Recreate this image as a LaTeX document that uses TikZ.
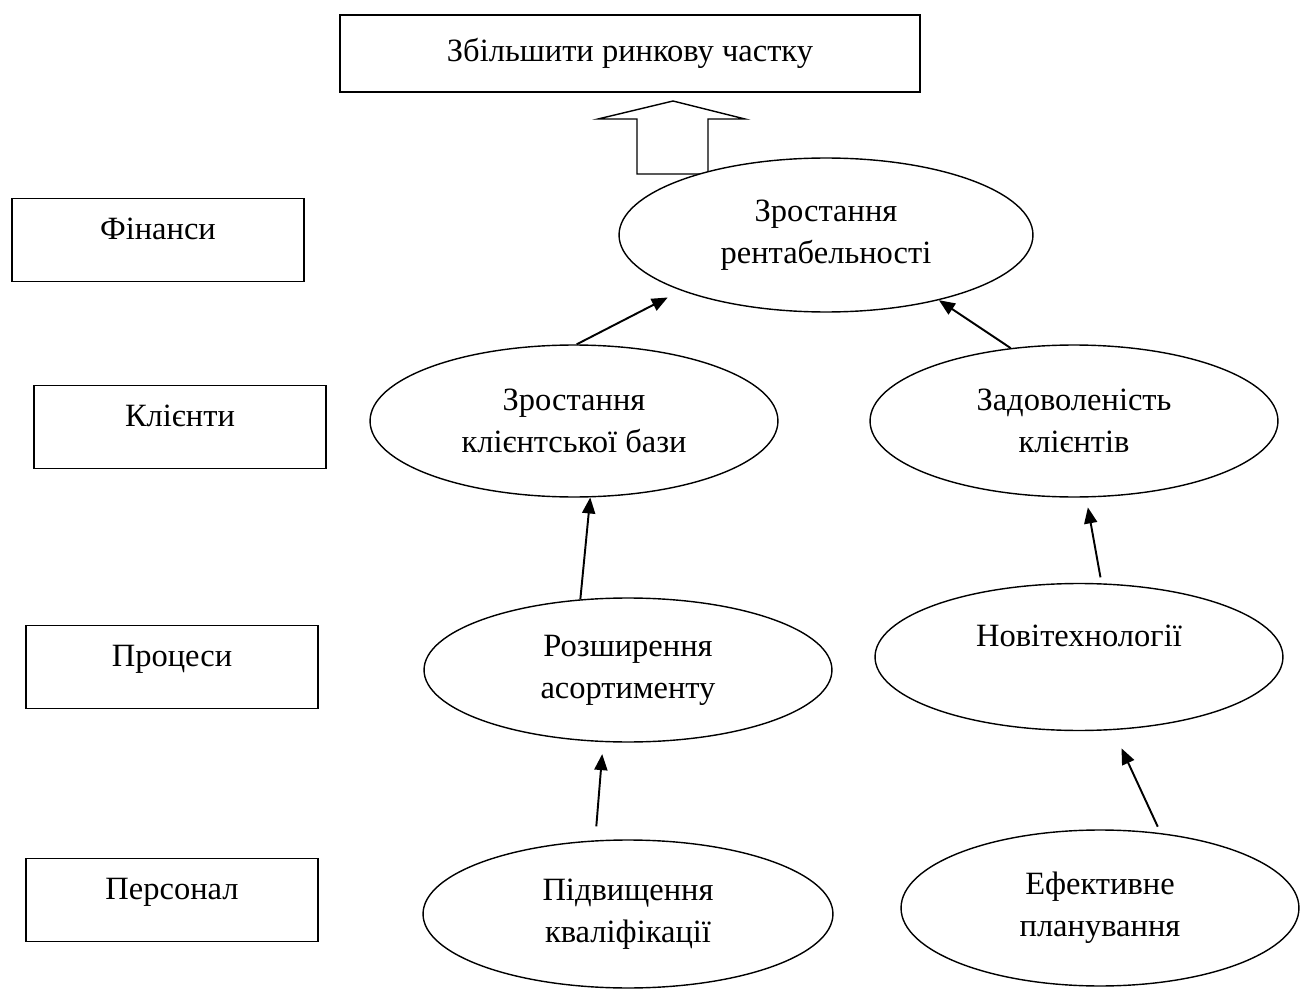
\documentclass[tikz,border=0pt]{standalone}
\usepackage{fontspec}
\setmainfont{Liberation Serif}
\usetikzlibrary{arrows.meta, shapes.geometric}

\tikzset{
	lvl/.style={draw, thick, rectangle, minimum width=5.84cm, inner sep=0pt,
		text height=23pt, text depth=24pt},
	goalbox/.style={draw, thick, rectangle, minimum width=11.6cm,
		minimum height=1.54cm, inner sep=0pt},
	aim/.style={draw, thick, ellipse, fill=white, align=center, inner sep=0pt,
		minimum width=8.16cm, minimum height=3.0cm},
	link/.style={line width=1.1pt, -{Triangle[length=0.32cm, width=0.26cm]}}
}

\begin{document}
\begin{tikzpicture}[x=0.02cm, y=-0.02cm, font=\fontsize{18.5}{24}\selectfont]
	\useasboundingbox (0,0) rectangle (1303,990);

	% perspectives
	\node (fin) at (158, 240) [lvl] {Фінанси};
	\node (kl) at (180, 427) [lvl] {Клієнти};
	\node (pr) at (172, 667) [lvl] {Процеси};
	\node (pers) at (172, 900) [lvl] {Персонал};

	% goal and block arrow
	\node (goal) at (630, 53.5) [goalbox] {Збільшити ринкову частку};

	\draw
		[thick] (637,174) -- (637,119) -- (598,119) -- (673,101)
		-- (745,119) -- (708,119) -- (708,174) -- cycle;

	% objectives
	\node (rent) at (826, 235) [aim, minimum width=8.28cm, minimum height=3.08cm]
		{Зростання\\рентабельності};
	\node (kb) at (574, 421) [aim, minimum height=3.04cm]
		{Зростання\\клієнтської бази};
	\node (zk) at (1074, 421) [aim, minimum height=3.04cm]
		{Задоволеність\\клієнтів};
	\node (rozsh) at (628, 670) [aim, minimum height=2.88cm]
		{Розширення\\асортименту};
	\node (novi) at (1079, 657) [aim, minimum height=2.94cm]
		{Новітехнології\\\mbox{}};
	\node (pidv) at (628, 914) [aim, minimum width=8.2cm, minimum height=2.96cm]
		{Підвищення\\кваліфікації};
	\node (efekt) at (1100, 908) [aim, minimum width=7.96cm, minimum height=3.12cm]
		{Ефективне\\планування};

	% links
	\draw
		[link, shorten >=0.3cm] (kb.88) -- (rent.201);

	\draw
		[link] (zk.131) -- (rent.330);

	\draw
		[link] (rozsh.124) -- (kb.282);

	\draw
		[link, shorten <=0.12cm, shorten >=0.2cm] (novi.73) -- (zk.279);

	\draw
		[link, shorten <=0.28cm, shorten >=0.24cm] (pidv.114) -- (rozsh.251);

	\draw
		[link, shorten <=0.14cm, shorten >=0.4cm] (efekt.51) -- (novi.295);
\end{tikzpicture}
\end{document}
